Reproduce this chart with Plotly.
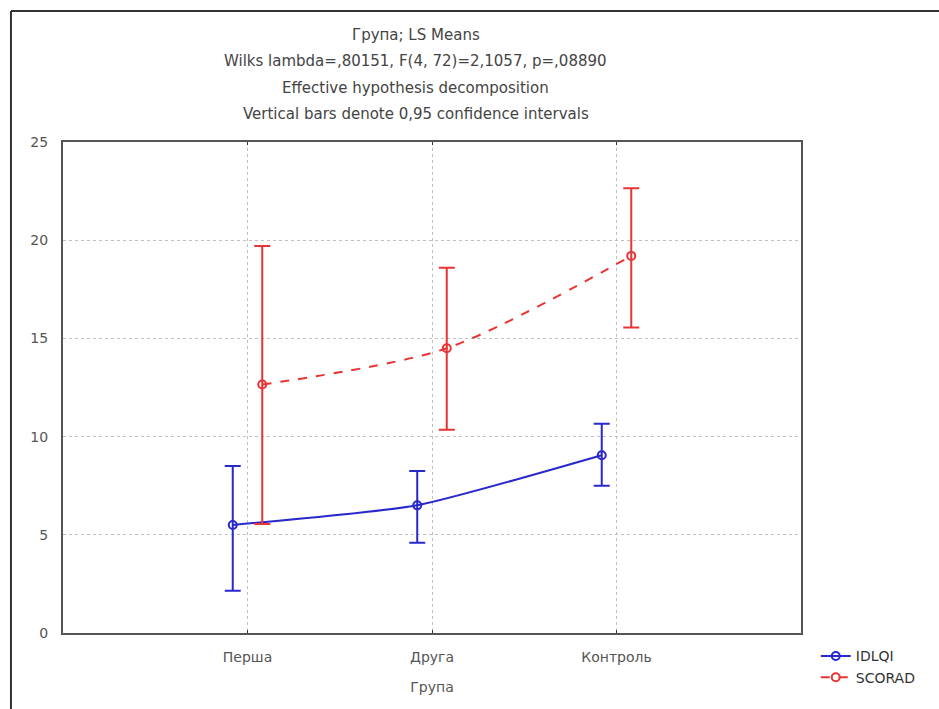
import plotly.graph_objects as go

# Groups and LS means with 95% confidence limits
groups = ["Перша", "Друга", "Контроль"]

idlqi_mean = [5.5, 6.5, 9.05]
idlqi_low = [2.15, 4.6, 7.5]
idlqi_high = [8.5, 8.25, 10.65]

scorad_mean = [12.65, 14.5, 19.2]
scorad_low = [5.55, 10.35, 15.55]
scorad_high = [19.7, 18.6, 22.65]

title_lines = [
    "Група; LS Means",
    "Wilks lambda=,80151, F(4, 72)=2,1057, p=,08890",
    "Effective hypothesis decomposition",
    "Vertical bars denote 0,95 confidence intervals",
]

BLUE = "rgb(40,40,205)"
RED = "rgb(232,52,52)"
GREY = "#555555"
FONT = "DejaVu Sans, Liberation Sans, sans-serif"

pos = list(range(1, len(groups) + 1))
shift = 0.08


def err(mean, low, high):
    return dict(
        type="data",
        symmetric=False,
        array=[h - m for m, h in zip(mean, high)],
        arrayminus=[m - l for m, l in zip(mean, low)],
        width=8,
        thickness=2,
    )


fig = go.Figure()
fig.add_trace(go.Scatter(
    x=[p - shift for p in pos], y=idlqi_mean, name="IDLQI",
    mode="lines+markers",
    line=dict(color=BLUE, width=2, shape="spline", smoothing=0.5),
    marker=dict(symbol="circle-open", size=8, color=BLUE, line=dict(width=2)),
    error_y=dict(err(idlqi_mean, idlqi_low, idlqi_high), color=BLUE),
))
fig.add_trace(go.Scatter(
    x=[p + shift for p in pos], y=scorad_mean, name="SCORAD",
    mode="lines+markers",
    line=dict(color=RED, width=2, dash="dash", shape="spline", smoothing=0.8),
    marker=dict(symbol="circle-open", size=8, color=RED, line=dict(width=2)),
    error_y=dict(err(scorad_mean, scorad_low, scorad_high), color=RED),
))

# Multi-line header above the plot frame
for i, txt in enumerate(title_lines):
    fig.add_annotation(
        text=txt, xref="paper", yref="paper",
        x=0.478, y=(633 - 35 - 26.5 * i) / 491, xanchor="center", yanchor="middle",
        showarrow=False, font=dict(family=FONT, size=15, color="#444444"),
    )

# Outer window border (top and left edges)
fig.add_shape(type="line", xref="paper", yref="paper",
              x0=-0.0705, x1=1.3, y0=1.2668, y1=1.2668,
              line=dict(color="#333333", width=2))
fig.add_shape(type="line", xref="paper", yref="paper",
              x0=-0.0705, x1=-0.0705, y0=1.2668, y1=-0.2,
              line=dict(color="#333333", width=2))

axis_common = dict(
    showline=True, linecolor="#555555", linewidth=2,
    showgrid=True, gridcolor="#c0c0c0", griddash="dot", gridwidth=1,
    zeroline=False,
    tickfont=dict(family=FONT, size=14, color=GREY),
)

fig.update_layout(
    width=939, height=709,
    margin=dict(l=63, r=138, t=142, b=76),
    paper_bgcolor="white", plot_bgcolor="white",
    showlegend=True,
    legend=dict(
        x=1.02, y=-0.015, xanchor="left", yanchor="top",
        font=dict(family=FONT, size=14, color="#333333"),
        tracegroupgap=0, itemwidth=30, bgcolor="rgba(0,0,0,0)",
    ),
    xaxis=dict(
        axis_common, range=[0, 4], tickvals=pos, ticktext=groups,
        mirror="allticks", ticks="inside", ticklen=3, tickcolor="#333333",
        ticklabelstandoff=10,
        title=dict(text="Група", font=dict(family=FONT, size=14, color=GREY), standoff=18),
    ),
    yaxis=dict(
        axis_common, mirror=True, range=[0, 25], tickvals=[0, 5, 10, 15, 20, 25],
        ticks="", ticklabelstandoff=10,
    ),
)

fig.write_html("out.html")
